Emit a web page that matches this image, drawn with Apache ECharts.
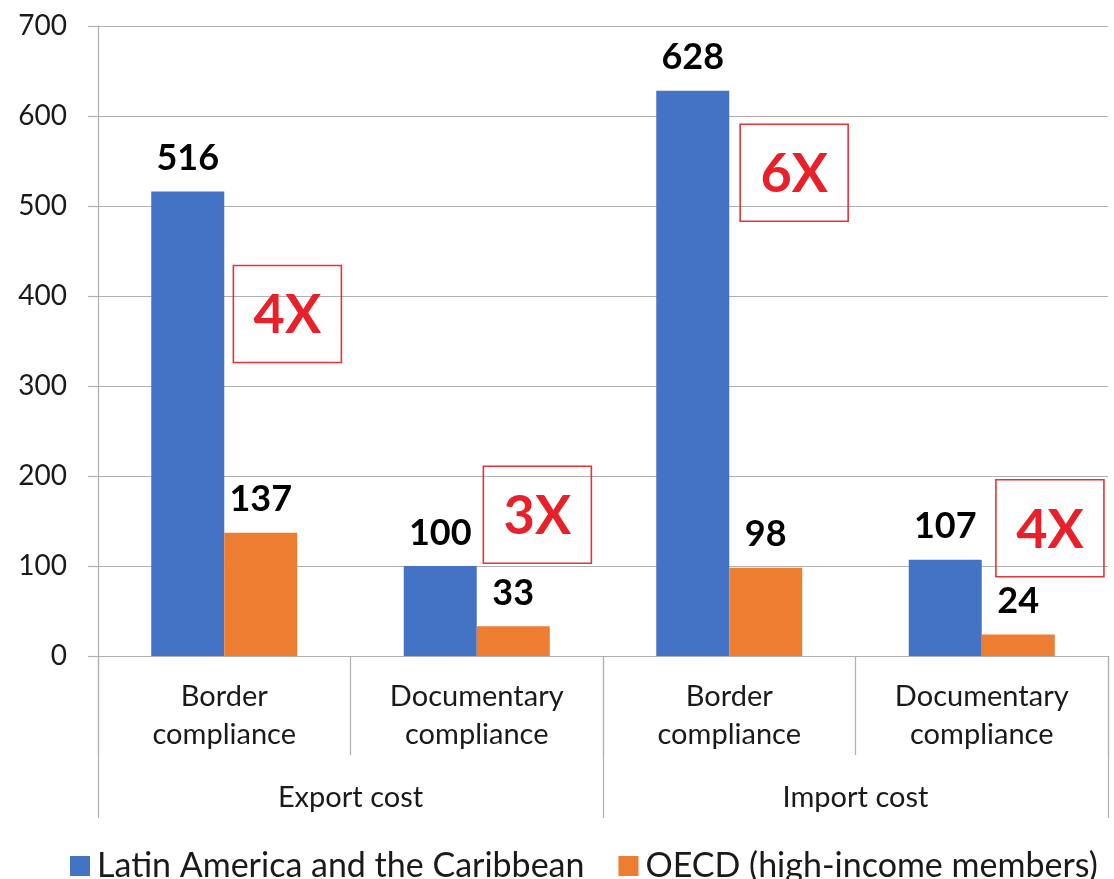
<!DOCTYPE html>
<html>
<head>
<meta charset="utf-8">
<script src="https://cdn.jsdelivr.net/npm/echarts@6/dist/echarts.min.js"></script>
<style>
  html, body { margin: 0; padding: 0; background: #fff; }
  #chart { width: 1114px; height: 879px; }
</style>
</head>
<body>
<div id="chart"></div>
<script>
// Compliance cost categories (inner axis) and their groups (outer axis)
const subCategories = ['Border\ncompliance', 'Documentary\ncompliance', 'Border\ncompliance', 'Documentary\ncompliance'];
const groupCategories = ['Export cost', 'Import cost'];

// Series values (US$)
const latamValues = [516, 100, 628, 107];
const oecdValues = [137, 33, 98, 24];

const seriesNames = ['Latin America and the Caribbean', 'OECD (high-income members)'];

// Ratio callouts: text, which category they sit beside, and their anchor in axis units
const ratioLabels = ['4X', '3X', '6X', '4X'];
const ratioCategory = [0, 1, 2, 3];
const ratioBandShift = [0.25, 0.24, 0.257, 0.27];
const ratioAnchorValue = [380, 157, 537, 142];

// Y axis ticks
const yMin = 0, yMax = 700, yStep = 100;

const FONT = 'Lato';
const GRID_GRAY = '#b0b0b0';
const TEXT = '#1a1a1a';

const chart = echarts.init(document.getElementById('chart'));

chart.setOption({
  animation: false,
  backgroundColor: '#ffffff',
  textStyle: { fontFamily: FONT },
  grid: { left: 98, right: 6, top: 26, bottom: 223, containLabel: false },
  legend: {
    data: seriesNames,
    left: 65,
    top: 844,
    itemWidth: 20,
    itemHeight: 20,
    itemGap: 34,
    icon: 'rect',
    textStyle: { fontFamily: FONT, fontSize: 34, color: TEXT, padding: [0, 0, 0, 2] }
  },
  xAxis: [
    {
      type: 'category',
      data: subCategories,
      position: 'bottom',
      axisLine: { show: true, lineStyle: { color: GRID_GRAY, width: 1.2 } },
      axisTick: { show: true, interval: 0, length: 99, lineStyle: { color: GRID_GRAY, width: 1.2 } },
      axisLabel: { interval: 0, margin: 22, fontFamily: FONT, fontSize: 29, lineHeight: 38, color: TEXT }
    },
    {
      type: 'category',
      data: groupCategories,
      position: 'bottom',
      axisLine: { show: false },
      axisTick: { show: true, interval: 0, length: 162, lineStyle: { color: GRID_GRAY, width: 1.2 } },
      axisLabel: { interval: 0, margin: 123, fontFamily: FONT, fontSize: 29, lineHeight: 38, color: TEXT }
    }
  ],
  yAxis: {
    type: 'value',
    min: yMin,
    max: yMax,
    interval: yStep,
    axisLine: { show: true, lineStyle: { color: GRID_GRAY, width: 1.2 } },
    axisTick: { show: true, length: 10, lineStyle: { color: GRID_GRAY, width: 1.2 } },
    splitLine: { show: true, lineStyle: { color: GRID_GRAY, width: 1.2 } },
    axisLabel: { margin: 31, fontFamily: FONT, fontSize: 28, color: TEXT }
  },
  series: [
    {
      name: seriesNames[0],
      type: 'bar',
      xAxisIndex: 0,
      data: latamValues,
      barWidth: 73,
      barGap: '0%',
      itemStyle: { color: '#4472C4' },
      label: { show: true, position: 'top', distance: 15, fontFamily: FONT, fontWeight: 'bold', fontSize: 36, color: '#000' }
    },
    {
      name: seriesNames[1],
      type: 'bar',
      xAxisIndex: 0,
      data: oecdValues,
      barWidth: 73,
      barGap: '0%',
      itemStyle: { color: '#ED7D31' },
      label: { show: true, position: 'top', distance: 15, fontFamily: FONT, fontWeight: 'bold', fontSize: 36, color: '#000' }
    }
  ]
});

// Red ratio callouts, placed through the axes' own scales
function drawCallouts() {
  const c0 = chart.convertToPixel({ xAxisIndex: 0 }, 0);
  const c1 = chart.convertToPixel({ xAxisIndex: 0 }, 1);
  const band = c1 - c0;
  const boxW = 108, boxH = 97;
  const elements = ratioLabels.map((txt, i) => {
    const cx = chart.convertToPixel({ xAxisIndex: 0 }, ratioCategory[i]) + band * ratioBandShift[i];
    const cy = chart.convertToPixel({ yAxisIndex: 0 }, ratioAnchorValue[i]);
    return {
      type: 'group',
      x: cx,
      y: cy,
      children: [
        {
          type: 'rect',
          shape: { x: -boxW / 2, y: -boxH / 2, width: boxW, height: boxH },
          style: { fill: 'none', stroke: '#e5333b', lineWidth: 1.6 }
        },
        {
          type: 'text',
          x: 0,
          y: 2,
          style: {
            text: txt,
            fill: '#e8202a',
            font: 'bold 54px ' + FONT,
            textAlign: 'center',
            textVerticalAlign: 'middle'
          }
        }
      ]
    };
  });
  chart.setOption({ graphic: elements });
}
drawCallouts();
</script>
</body>
</html>
